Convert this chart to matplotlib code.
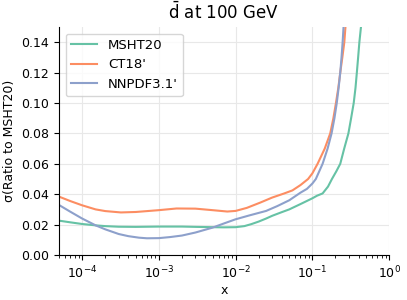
import numpy as np
import matplotlib
matplotlib.use('Agg')
import matplotlib.pyplot as plt

# values
x_msht = [5e-5, 7e-5, 1e-4, 1.5e-4, 2e-4, 3e-4, 5e-4, 1e-3, 2e-3, 3e-3, 5e-3, 7e-3, 1e-2, 1.3e-2,
          1.6e-2, 2e-2, 2.5e-2, 3e-2, 4e-2, 5e-2, 7e-2, 0.1, 0.115, 0.136, 0.16, 0.18, 0.205,
          0.231, 0.26, 0.295, 0.32, 0.346, 0.365, 0.38, 0.395, 0.41, 0.43]
y_msht = [0.0226, 0.0215, 0.0204, 0.0195, 0.0190, 0.0186, 0.0185, 0.0187, 0.0187, 0.0185, 0.0183,
          0.0182, 0.0183, 0.0190, 0.0203, 0.0220, 0.0240, 0.0258, 0.0282, 0.0300, 0.0335, 0.0373,
          0.0390, 0.0405, 0.0450, 0.0500, 0.0550, 0.0600, 0.0700, 0.0800, 0.0900, 0.1000, 0.1100,
          0.1200, 0.1300, 0.1400, 0.1500]

x_ct = [5e-5, 7e-5, 1e-4, 1.5e-4, 2e-4, 3.2e-4, 5e-4, 1e-3, 1.7e-3, 3e-3, 5e-3, 7.8e-3, 1e-2,
        1.4e-2, 2.1e-2, 3e-2, 4.3e-2, 5.5e-2, 7e-2, 0.088, 0.1, 0.117, 0.145, 0.171, 0.188,
        0.203, 0.218, 0.231, 0.246, 0.261, 0.27]
y_ct = [0.0384, 0.0355, 0.0327, 0.0300, 0.0289, 0.0280, 0.0283, 0.0295, 0.0306, 0.0305, 0.0295,
        0.0286, 0.0290, 0.0310, 0.0345, 0.0378, 0.0405, 0.0425, 0.0460, 0.0500, 0.0537, 0.0600,
        0.0700, 0.0800, 0.0900, 0.1000, 0.1100, 0.1200, 0.1300, 0.1400, 0.1500]

x_nn = [5e-5, 7e-5, 1e-4, 1.5e-4, 2e-4, 3e-4, 4e-4, 5.5e-4, 7e-4, 1e-3, 1.4e-3, 2e-3, 3e-3,
        5e-3, 7e-3, 1e-2, 1.5e-2, 2.5e-2, 3.5e-2, 5e-2, 7e-2, 0.085, 0.1, 0.111, 0.136, 0.158,
        0.178, 0.194, 0.208, 0.22, 0.231, 0.24, 0.248, 0.255]
y_nn = [0.0329, 0.0285, 0.0240, 0.0195, 0.0169, 0.0138, 0.0124, 0.0114, 0.0110, 0.0111, 0.0118,
        0.0128, 0.0148, 0.0180, 0.0207, 0.0235, 0.0260, 0.0290, 0.0322, 0.0360, 0.0410, 0.0435,
        0.0470, 0.0500, 0.0600, 0.0700, 0.0800, 0.0900, 0.1000, 0.1100, 0.1200, 0.1300, 0.1400,
        0.1500]

labels = ['MSHT20', "CT18'", "NNPDF3.1'"]
colors = ['#66c2a5', '#fc8d62', '#8da0cb']

plt.rcParams['font.size'] = 9

fig = plt.figure(figsize=(4.07, 3.0), dpi=100)
ax = fig.add_axes([0.145, 0.15, 0.811, 0.76])

for xs, ys, lab, c in zip([x_msht, x_ct, x_nn], [y_msht, y_ct, y_nn], labels, colors):
    ax.plot(xs, ys, color=c, lw=1.5, label=lab)

ax.set_xscale('log')
ax.set_xlim(5e-5, 1.0)
ax.set_ylim(0, 0.15)
ax.set_yticks(np.arange(0, 0.141, 0.02))
ax.grid(True, color='#e8e8e8', lw=0.8)
ax.set_axisbelow(True)
for s in ['top', 'right']:
    ax.spines[s].set_visible(False)

ax.set_xlabel('x', labelpad=2)
ax.set_ylabel('σ(Ratio to MSHT20)')
ax.set_title(r'$\bar{\mathrm{d}}$ at 100 GeV', fontsize=12)
ax.legend(loc='upper left', fontsize=9.5)

plt.savefig('out.png', dpi=100)
